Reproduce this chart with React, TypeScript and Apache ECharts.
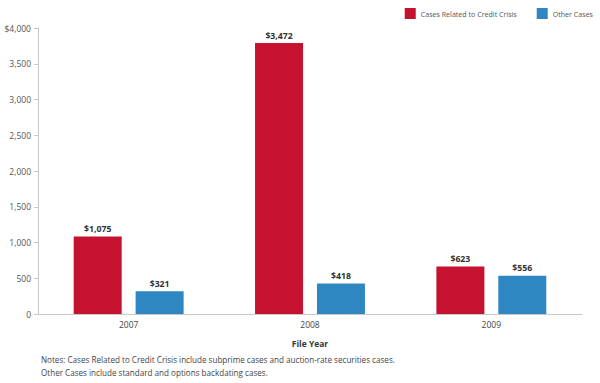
import React, { useEffect, useRef } from "react";
import * as echarts from "echarts";

const years = ["2007", "2008", "2009"];
const creditHeights = [1085, 3790, 665];
const otherHeights = [318, 425, 535];
const creditLabels = ["$1,075", "$3,472", "$623"];
const otherLabels = ["$321", "$418", "$556"];
const seriesNames = ["Cases Related to Credit Crisis", "Other Cases"];
const notes = [
  "Notes: Cases Related to Credit Crisis include subprime cases and auction-rate securities cases.",
  "Other Cases include standard and options backdating cases.",
];

const FONT = "'Open Sans', 'Noto Sans', sans-serif";

export default function App() {
  const ref = useRef<HTMLDivElement>(null);
  useEffect(() => {
    if (!ref.current) return;
    const chart = echarts.init(ref.current, null, { renderer: "svg" });
    chart.setOption({
      animation: false,
      textStyle: { fontFamily: FONT },
      legend: {
        right: 2,
        top: 3,
        itemWidth: 11,
        itemHeight: 11,
        itemGap: 20,
        icon: "rect",
        textStyle: { fontSize: 7.1, color: "#555", fontFamily: FONT },
        data: seriesNames,
      },
      grid: { left: 38, right: 18, top: 28, bottom: 69 },
      xAxis: {
        type: "category",
        data: years,
        name: "File Year",
        nameLocation: "middle",
        nameGap: 25,
        nameTextStyle: { fontSize: 8.5, fontWeight: "bold", color: "#333", fontFamily: FONT },
        axisLine: { lineStyle: { color: "#c8c8c8" } },
        axisTick: { show: false },
        axisLabel: { fontSize: 8.5, color: "#444", margin: 6, fontFamily: FONT },
      },
      yAxis: {
        type: "value",
        min: 0,
        max: 4000,
        interval: 500,
        splitLine: { show: false },
        axisLine: { show: true, lineStyle: { color: "#c8c8c8" } },
        axisTick: { show: true, length: 4, lineStyle: { color: "#c8c8c8" } },
        axisLabel: {
          fontSize: 8.5,
          color: "#555",
          margin: 7,
          fontFamily: FONT,
          formatter: (v: number) =>
            (v === 4000 ? "$" : "") + v.toLocaleString("en-US"),
        },
      },
      series: [
        {
          name: seriesNames[0],
          type: "bar",
          data: creditHeights,
          barWidth: 48,
          barGap: "29%",
          itemStyle: { color: "#c41230" },
          label: {
            show: true,
            position: "top",
            distance: 3,
            fontSize: 8.7,
            fontWeight: "bold",
            color: "#333",
            fontFamily: FONT,
            formatter: (p: any) => creditLabels[p.dataIndex],
          },
        },
        {
          name: seriesNames[1],
          type: "bar",
          data: otherHeights,
          barWidth: 48,
          itemStyle: { color: "#2e87c0" },
          label: {
            show: true,
            position: "top",
            distance: 3,
            fontSize: 8.7,
            fontWeight: "bold",
            color: "#333",
            fontFamily: FONT,
            formatter: (p: any) => otherLabels[p.dataIndex],
          },
        },
      ],
      graphic: notes.map((t, i) => ({
        type: "text",
        left: 41,
        top: 355 + i * 13,
        style: { text: t, fontSize: 8.1, fill: "#444", fontFamily: FONT },
      })),
    });
    return () => chart.dispose();
  }, []);
  return <div ref={ref} style={{ width: 600, height: 383, position: "absolute", left: 0, top: 0 }} />;
}
